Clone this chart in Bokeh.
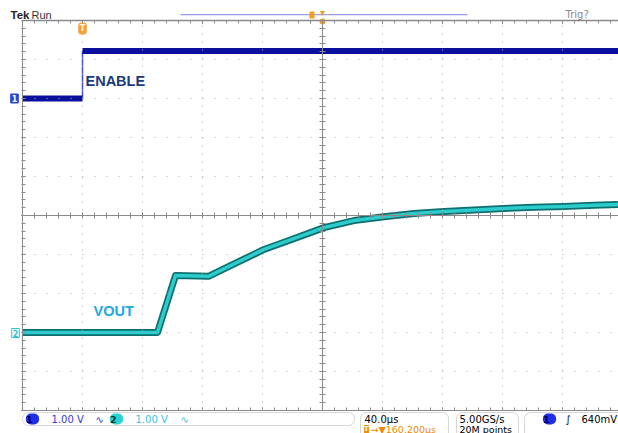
from bokeh.plotting import figure
from bokeh.models import (Range1d, LinearAxis, FixedTicker, Label, BoxAnnotation,
                          CustomJSTickFormatter)
from bokeh.embed import file_html
from bokeh.resources import INLINE

# ---------------- data ----------------
time_per_div_us = 40          # 40.0 us/div
volts_per_div = 1.0           # both channels 1.00 V/div
ch1_offset_div = 8            # CH1 ground marker position (divisions from bottom)
ch2_offset_div = 2            # CH2 ground marker position

# ENABLE (CH1), time in us relative to trigger, volts
enable_t = [-40, 0, 0, 357]
enable_v = [0.0, 0.0, 1.22, 1.22]

# VOUT (CH2)
vout_t = [-40, 50, 62, 84, 99, 121, 139, 161, 181, 201, 221, 241, 261, 281, 301, 321, 341, 357]
vout_v = [0.0, 0.0, 1.46, 1.44, 1.72, 2.13, 2.38, 2.69, 2.87, 2.97, 3.05, 3.10, 3.14, 3.18,
          3.21, 3.23, 3.26, 3.28]

x_div_ticks = [-40, 0, 40, 80, 120, 160, 200, 240, 280, 320, 360]
y_div_ticks = [0, 1, 2, 3, 4, 5, 6, 7, 8, 9, 10]

# ---------------- layout: the plot frame is the whole screen ----------------
W, H = 618, 433
GX0, GY0, GY1 = 22, 20, 410          # graticule left / top / bottom on screen
px_per_us = 60.0 / time_per_div_us
px_per_div = (GY1 - GY0) / 10.0
x_start = x_div_ticks[0]

def X(px):   # screen pixel -> data x
    return x_start + (px - GX0) / px_per_us

def Y(py):   # screen pixel -> data y (divisions)
    return (GY1 - py) / px_per_div

x_end = X(W)

GRAT = "#8a8a8a"
DOTS = "#a9a9a9"
FONT = "DejaVu Sans"

p = figure(width=W, height=H, x_range=Range1d(X(0), X(W)), y_range=Range1d(Y(H), Y(0)),
           output_backend="svg", toolbar_location=None,
           x_axis_location=None, y_axis_location=None,
           min_border=0, min_border_left=0, min_border_right=0,
           min_border_top=0, min_border_bottom=0)
p.outline_line_color = None
p.background_fill_color = "white"
p.border_fill_color = "white"
p.grid.visible = False

x_minor = [x_start + i * time_per_div_us / 5 for i in range(0, 51)]
y_minor = [round(i * 0.2, 1) for i in range(0, 51)]

def axis(loc, horizontal, t_in=0, t_out=0, width=1, color=GRAT, dash="solid", ticks=True):
    if horizontal:
        tk = FixedTicker(ticks=x_div_ticks, minor_ticks=x_minor) if ticks else FixedTicker(ticks=[])
        bounds = (x_start, x_end)
    else:
        tk = FixedTicker(ticks=y_div_ticks, minor_ticks=y_minor) if ticks else FixedTicker(ticks=[])
        bounds = (y_div_ticks[0], y_div_ticks[-1])
    ax = LinearAxis(fixed_location=loc, bounds=bounds, ticker=tk,
                    formatter=CustomJSTickFormatter(code="return ''"),
                    axis_line_color=color, axis_line_width=width, axis_line_dash=dash,
                    major_tick_line_color=GRAT, minor_tick_line_color=GRAT,
                    major_tick_in=t_in, major_tick_out=t_out,
                    minor_tick_in=t_in, minor_tick_out=t_out,
                    major_label_standoff=0)
    p.add_layout(ax, "below" if horizontal else "left")

# dotted graticule lines
for xv in x_div_ticks[1:-1]:
    if xv != 160:
        axis(xv, False, color=DOTS, dash="1 7", ticks=False)
for yv in y_div_ticks[1:-1]:
    if yv != 5:
        axis(yv, True, color=DOTS, dash="1 11", ticks=False)

axis(0, True, 3, 0)            # bottom edge
axis(10, True, 0, 3, 1.5)      # top edge
axis(5, True, 3, 3)            # centre horizontal
axis(x_start, False, 3, 1)     # left edge
axis(160, False, 3, 3)         # centre vertical

# ---------------- traces ----------------
ch1_y = [ch1_offset_div + v / volts_per_div for v in enable_v]
ch2_y = [ch2_offset_div + v / volts_per_div for v in vout_v]

p.line(enable_t, ch1_y, line_color="#4052d8", line_width=1.5)
p.line(enable_t[:2], ch1_y[:2], line_color="#0b0f9e", line_width=6)
p.line(enable_t[2:], ch1_y[2:], line_color="#0b0f9e", line_width=6)

p.line(vout_t, ch2_y, line_color="#0d6f70", line_width=7, line_join="round")
p.line(vout_t, ch2_y, line_color="#2ccccc", line_width=3.5, line_join="round")

# expansion marker on the top edge
p.scatter([160], [Y(21)], marker="circle", size=6, fill_color="#f0a020", line_color=None)

def lab(px, py, text, size=10, color="black", bold=False, align="left", font=FONT, **kw):
    p.add_layout(Label(x=X(px), y=Y(py), text=text, text_font=font,
                       text_font_size=f"{size}px", text_color=color,
                       text_font_style="bold" if bold else "normal",
                       text_align=align, text_baseline="middle", **kw))

# signal names
p.add_layout(Label(x=X(85), y=Y(80), text="ENABLE", text_font="Liberation Sans",
                   text_font_size="14.5px", text_font_style="bold", text_color="#1d3a7c",
                   text_baseline="middle"))
p.add_layout(Label(x=X(93), y=Y(310), text="VOUT", text_font="Liberation Sans",
                   text_font_size="14.5px", text_font_style="bold", text_color="#22a9e0",
                   text_baseline="middle"))

# channel ground markers
lab(14, 98, "1", size=8, color="white", bold=True, align="center",
    background_fill_color="#2b45d9", border_line_color="#2b45d9", padding=1)
lab(15, 332.5, "2", size=8, color="#2cc6d0", bold=True, align="center",
    background_fill_color="white", border_line_color="#2cc6d0", padding=1)
# trigger position marker
lab(82, 28, "T", size=8, color="#fff3d6", bold=True, align="center",
    background_fill_color="#f3a23a", border_line_color="#f3a23a", padding=1, border_radius=2)

# ---------------- top bar ----------------
lab(10, 14, "Tek", size=11.5, color="#222222", bold=True, font="Liberation Sans")
lab(31, 14.5, "Run", size=11, color="#333333", font="Liberation Sans")
p.add_layout(BoxAnnotation(left=X(180), right=X(467), top=Y(13.5), bottom=Y(14.7),
                           fill_color="#9c9ce8", fill_alpha=1, line_color=None))
p.add_layout(BoxAnnotation(left=X(309), right=X(314), top=Y(11), bottom=Y(18),
                           fill_color="#f0a020", fill_alpha=1, line_color=None))
lab(322, 12, "\u25be", size=10, color="#f0a020", align="center")
lab(565, 14, "Trig?", size=10, color="#8a8a8a")

# ---------------- status bar ----------------
for l, r, b in [(22, 354, 425), (360, 448, 440), (456, 518, 440), (524, 640, 440)]:
    p.add_layout(BoxAnnotation(left=X(l), right=X(r), top=Y(412), bottom=Y(b),
                               fill_color="white", fill_alpha=1, line_color="#7a7a7a",
                               line_width=1, border_radius=6))

R1, R2 = 418.5, 428.5
lab(32, R1, " 1 ", size=9.5, color="#000060", bold=True, align="center",
    background_fill_color="#1f2fe6", border_radius=5, padding=0)
lab(51, R1, "1.00 V", size=10, color="#3838d0")
lab(95, R1, "\u223f", size=10, color="#3838d0")
lab(116, R1, " 2 ", size=9.5, color="#003a3a", bold=True, align="center",
    background_fill_color="#2cd3d3", border_radius=5, padding=0)
lab(135, R1, "1.00 V", size=10, color="#38c8d8")
lab(180, R1, "\u223f", size=10, color="#38c8d8")

lab(364, R1, "40.0\u00b5s", size=10, color="black")
lab(366, R2, "T", size=7, color="white", bold=True, align="center",
    background_fill_color="#f08c00", padding=0)
lab(370, R2, "\u2192\u25bc160.200\u00b5s", size=9.5, color="#f08c00")

lab(459, R1, "5.00GS/s", size=10, color="black")
lab(459, R2, "20M points", size=9.5, color="black")

lab(549, R1, " 1 ", size=9.5, color="#000060", bold=True, align="center",
    background_fill_color="#1f2fe6", border_radius=5, padding=0)
lab(565, R1, "\u222b", size=10, color="black")
lab(581, R1, "640mV", size=10, color="black")

open("out.html", "w").write(file_html(p, INLINE))
